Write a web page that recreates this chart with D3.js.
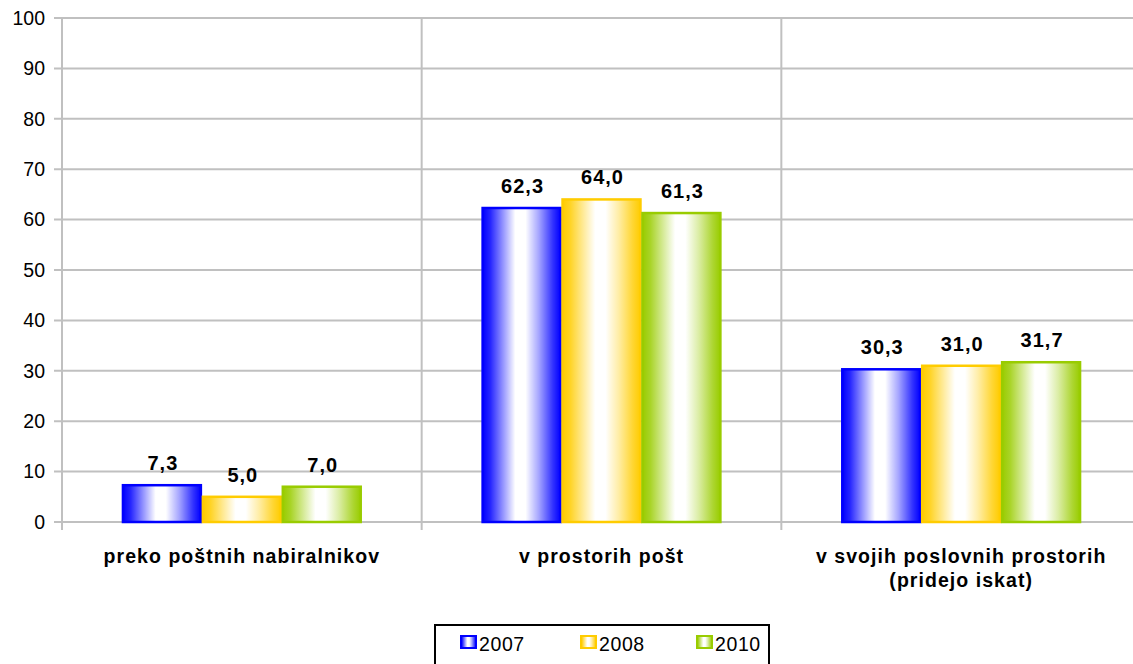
<!DOCTYPE html>
<html><head><meta charset="utf-8">
<script src="https://cdn.jsdelivr.net/npm/d3@7"></script>
<style>body{margin:0;background:#fff}svg{display:block;font-family:"Liberation Sans",Arial,sans-serif}</style>
</head><body>
<svg id="c" width="1133" height="664"></svg>
<script>
const categories = ["preko poštnih nabiralnikov", "v prostorih pošt", "v svojih poslovnih prostorih\n(pridejo iskat)"];
const seriesNames = ["2007", "2008", "2010"];
const values2007 = [7.3, 62.3, 30.3];
const values2008 = [5.0, 64.0, 31.0];
const values2010 = [7.0, 61.3, 31.7];
const yTicks = [0, 10, 20, 30, 40, 50, 60, 70, 80, 90, 100];
const colors = ["#0000ff", "#ffcc00", "#99cc00"];
const seriesValues = [values2007, values2008, values2010];

const svg = d3.select("#c");
const L = 62, R = 1141, T = 18, B = 522;
const x = d3.scaleBand().domain(categories).range([L, R]);
const xs = d3.scaleBand().domain(seriesNames).range([0, x.bandwidth()]).paddingOuter(0.75).paddingInner(0);
const y = d3.scaleLinear().domain([0, 100]).range([B, T]);

const defs = svg.append("defs");
colors.forEach((c, i) => {
  const g = defs.append("linearGradient").attr("id", "g" + i).attr("x1", 0).attr("x2", 1).attr("y1", 0).attr("y2", 0);
  [[0, 1], [0.1, 0.85], [0.25, 0.45], [0.42, 0], [0.55, 0], [0.72, 0.35], [0.9, 0.8], [1, 1]]
    .forEach(([o, op]) => g.append("stop").attr("offset", o).attr("stop-color", c).attr("stop-opacity", op));
});

// grid
svg.append("g").selectAll("line").data(yTicks).join("line")
  .attr("x1", L - 8).attr("x2", 1133).attr("y1", d => y(d)).attr("y2", d => y(d))
  .attr("stroke", "#c0c0c0").attr("stroke-width", 2);
const vlines = [L, ...categories.map(c => x(c) + x.bandwidth())];
svg.append("g").selectAll("line").data(vlines).join("line")
  .attr("x1", d => d).attr("x2", d => d).attr("y1", T).attr("y2", B + 8)
  .attr("stroke", "#c0c0c0").attr("stroke-width", 2);

// y labels
svg.append("g").selectAll("text").data(yTicks).join("text")
  .attr("x", 45).attr("y", d => y(d)).attr("dy", "0.35em").attr("text-anchor", "end")
  .attr("font-size", 19.5).attr("fill", "#000").text(d => d);

// bars
seriesNames.forEach((s, i) => {
  const gr = svg.append("g");
  gr.selectAll("rect").data(categories).join("rect")
    .attr("x", c => x(c) + xs(s) + 1).attr("width", xs.bandwidth() - 2)
    .attr("y", (c, j) => y(seriesValues[i][j])).attr("height", (c, j) => B - y(seriesValues[i][j]))
    .attr("fill", "#fff").attr("stroke", "none");
  gr.selectAll("rect.f").data(categories).join("rect").attr("class", "f")
    .attr("x", c => x(c) + xs(s) + 1).attr("width", xs.bandwidth() - 2)
    .attr("y", (c, j) => y(seriesValues[i][j])).attr("height", (c, j) => B - y(seriesValues[i][j]))
    .attr("fill", `url(#g${i})`).attr("stroke", colors[i]).attr("stroke-width", 2.5);
  gr.selectAll("text").data(categories).join("text")
    .attr("x", c => x(c) + xs(s) + xs.bandwidth() / 2 + 1).attr("y", (c, j) => y(seriesValues[i][j]) - 15)
    .attr("text-anchor", "middle").attr("font-size", 20).attr("font-weight", "bold").attr("letter-spacing", 1)
    .text((c, j) => seriesValues[i][j].toFixed(1).replace(".", ","));
});

// category labels
categories.forEach(c => {
  const lines = c.split("\n");
  const cx = x(c) + x.bandwidth() / 2;
  const t = svg.append("text").attr("x", cx).attr("y", 563)
    .attr("text-anchor", "middle").attr("font-size", 19.5).attr("font-weight", "bold").attr("letter-spacing", 1.05);
  lines.forEach((ln, k) => t.append("tspan").attr("x", cx).attr("dy", k ? 24 : 0).text(ln));
});

// legend
svg.append("rect").attr("x", 435).attr("y", 625).attr("width", 334).attr("height", 50)
  .attr("fill", "#fff").attr("stroke", "#000").attr("stroke-width", 2);
const lx = [461, 581, 697];
seriesNames.forEach((s, i) => {
  svg.append("rect").attr("x", lx[i]).attr("y", 636).attr("width", 15).attr("height", 12)
    .attr("fill", `url(#g${i})`).attr("stroke", colors[i]).attr("stroke-width", 2);
  svg.append("text").attr("x", lx[i] + 18).attr("y", 651).attr("font-size", 19.5).attr("letter-spacing", 0.6).text(s);
});
</script>
</body></html>
